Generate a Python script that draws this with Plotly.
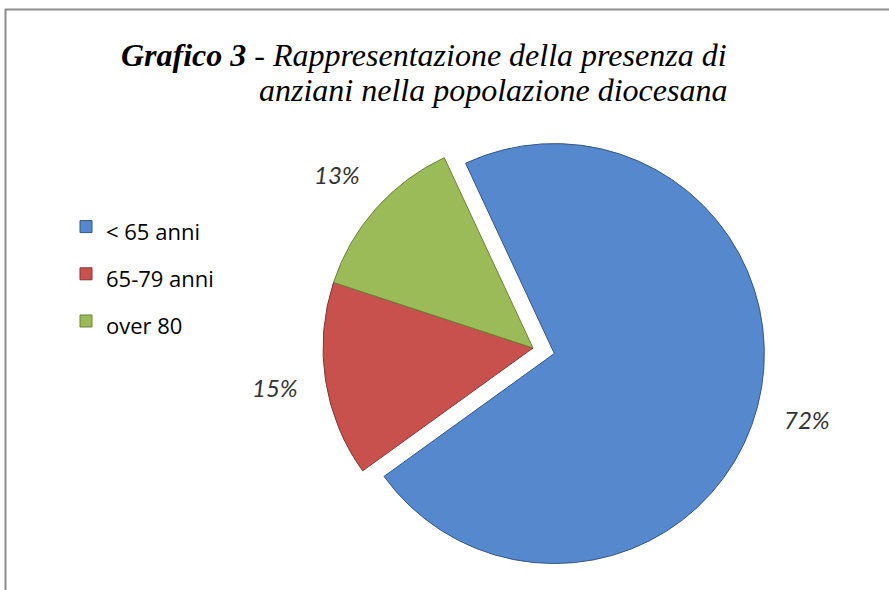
import math
import plotly.graph_objects as go

categories = ["&lt; 65 anni", "65-79 anni", "over 80"]
values = [72, 15, 13]
colors = ["#5588cc", "#c8504d", "#9bbb59"]
edge_colors = ["#34568a", "#8a3432", "#6a8337"]
pulls = [0.105, 0, 0]

W, H = 889, 590
ROTATION = -25

# pie box (pixels) -> paper domain
box_l, box_r, box_t, box_b = 300.95, 765.05, 115.95, 580.05
dom_x = [box_l / W, box_r / W]
dom_y = [(H - box_b) / H, (H - box_t) / H]

fig = go.Figure()
fig.add_trace(go.Pie(
    labels=[f"<span style='font-size:22px'>{c}</span>" for c in categories],
    values=values,
    sort=False,
    direction="clockwise",
    rotation=ROTATION,
    pull=pulls,
    marker=dict(colors=colors, line=dict(color=edge_colors, width=1)),
    textinfo="none",
    domain=dict(x=dom_x, y=dom_y),
    hoverinfo="label+percent",
    showlegend=True,
))

# percentage labels placed outside, along each slice bisector (derived from the values)
cx = (box_l + box_r) / 2
cy = (box_t + box_b) / 2
r = min(box_r - box_l, box_b - box_t) / (2 + 2 * max(pulls))
total = sum(values)
cum = 0
for v, p in zip(values, pulls):
    mid = math.radians(ROTATION + 360 * (cum + v / 2) / total)
    cum += v
    dist = p * r + 1.245 * r
    px = cx + dist * math.sin(mid)
    py = cy - dist * math.cos(mid)
    fig.add_annotation(
        xref="paper", yref="paper", x=px / W, y=1 - py / H,
        xanchor="center", yanchor="middle", showarrow=False,
        text=f"{round(100 * v / total)}%",
        font=dict(family="Lato", size=24, color="#333333", style="italic"),
    )

title_font = dict(family="Liberation Serif", size=32, color="#000000", style="italic")
fig.add_annotation(
    xref="paper", yref="paper", x=729 / W, y=1 - 55 / H,
    xanchor="right", yanchor="middle", showarrow=False,
    text="<b>Grafico 3</b> - Rappresentazione della presenza di",
    font=title_font,
)
fig.add_annotation(
    xref="paper", yref="paper", x=729 / W, y=1 - 90 / H,
    xanchor="right", yanchor="middle", showarrow=False,
    text="anziani nella popolazione diocesana",
    font=title_font,
)

# chart border (top and left edges visible)
fig.add_shape(type="line", xref="paper", yref="paper", x0=5 / W, x1=1, y0=(H - 9.5) / H, y1=(H - 9.5) / H,
              line=dict(color="#8c8c8c", width=2))
fig.add_shape(type="line", xref="paper", yref="paper", x0=5.5 / W, x1=5.5 / W, y0=0, y1=(H - 9) / H,
              line=dict(color="#8c8c8c", width=2))

fig.update_layout(
    width=W, height=H, autosize=False,
    margin=dict(l=0, r=0, t=0, b=0),
    paper_bgcolor="white", plot_bgcolor="white",
    legend=dict(x=66 / W, y=(H - 198) / H, xanchor="left", yanchor="top",
                font=dict(family="Open Sans", size=34, color="#000000"),
                bgcolor="rgba(0,0,0,0)"),
)

fig.write_html("out.html", config={"responsive": False}, default_width="889px", default_height="590px")
